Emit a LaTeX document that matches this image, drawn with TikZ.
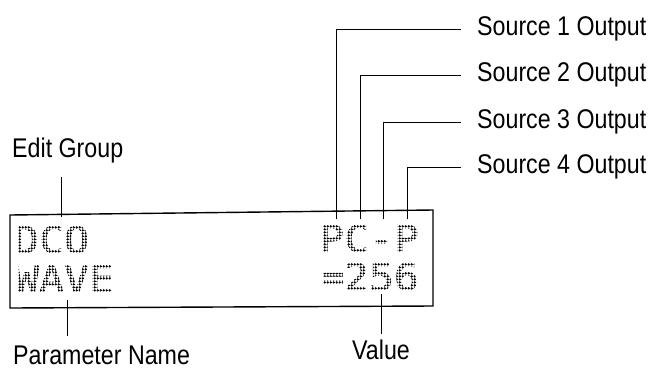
\documentclass[tikz,border=0pt]{standalone}
\usepackage{fontspec}
\setmainfont{Liberation Sans}
\newfontfamily\labelfont[FakeStretch=0.86]{Liberation Sans}
\newfontfamily\lcdfont[FakeStretch=1.12,FakeBold=2]{DejaVu Sans Mono}
\newcommand{\dotclip}[4]{%
  \clip \foreach \i in {0,...,#3} {\foreach \j in {0,...,8} {(#1+1.8+\i*3,#2-1.6-\j*3) circle[radius=1.25pt]}};}
\begin{document}
\begin{tikzpicture}[x=1pt,y=-1pt,
  lbl/.style={font=\labelfont\fontsize{27}{30}\selectfont, inner sep=0pt, anchor=base west},
  lcd/.style={font=\lcdfont\fontsize{37}{40}\selectfont, inner sep=0pt, anchor=base west, text=black},
  lead/.style={line width=0.9pt},
  frame/.style={line width=1.4pt, line join=miter}]
\useasboundingbox (0,0) rectangle (652,370);

% display frame
\draw[frame] (10,215) -- (433,210) -- (433,306) -- (10,308) -- cycle;

% display text (dot matrix)
\begin{scope}
  \dotclip{18}{253}{26}{8}
  \node[lcd] (dco) at (14,253) {DCO};
\end{scope}
\begin{scope}
  \dotclip{18}{292}{34}{8}
  \node[lcd] (wave) at (14,292) {WAVE};
\end{scope}
\begin{scope}
  \dotclip{323}{252}{34}{8}
  \node[lcd] (pcp) at (319,252) {PC-P};
\end{scope}
\begin{scope}
  \dotclip{323}{290}{34}{8}
  \node[lcd] (val) at (319,290) {=256};
\end{scope}

% labels
\node[lbl] (edit) at (12,157) {Edit Group};
\node[lbl] (param) at (13,364) {Parameter Name};
\node[lbl] (value) at (352,359) {Value};
\node[lbl] (src1) at (477,35) {Source 1 Output};
\node[lbl] (src2) at (477,81) {Source 2 Output};
\node[lbl] (src3) at (477,128) {Source 3 Output};
\node[lbl] (src4) at (477,173) {Source 4 Output};

% leader coordinates
\coordinate (egt) at (61,177);
\coordinate (egb) at (61,217);
\coordinate (pnt) at (67,300);
\coordinate (pnb) at (67,336);
\coordinate (vat) at (381,294);
\coordinate (vab) at (381,334);
\coordinate (s1b) at (336,219);
\coordinate (s2b) at (360,219);
\coordinate (s3b) at (383,219);
\coordinate (s4b) at (407,219);
\coordinate (s1e) at (461,29);
\coordinate (s2e) at (461,75);
\coordinate (s3e) at (461,122);
\coordinate (s4e) at (461,167);

% leaders
\draw[lead] (egt) -- (egb);
\draw[lead] (pnt) -- (pnb);
\draw[lead] (vat) -- (vab);
\draw[lead] (s1b) |- (s1e);
\draw[lead] (s2b) |- (s2e);
\draw[lead] (s3b) |- (s3e);
\draw[lead] (s4b) |- (s4e);
\end{tikzpicture}
\end{document}
